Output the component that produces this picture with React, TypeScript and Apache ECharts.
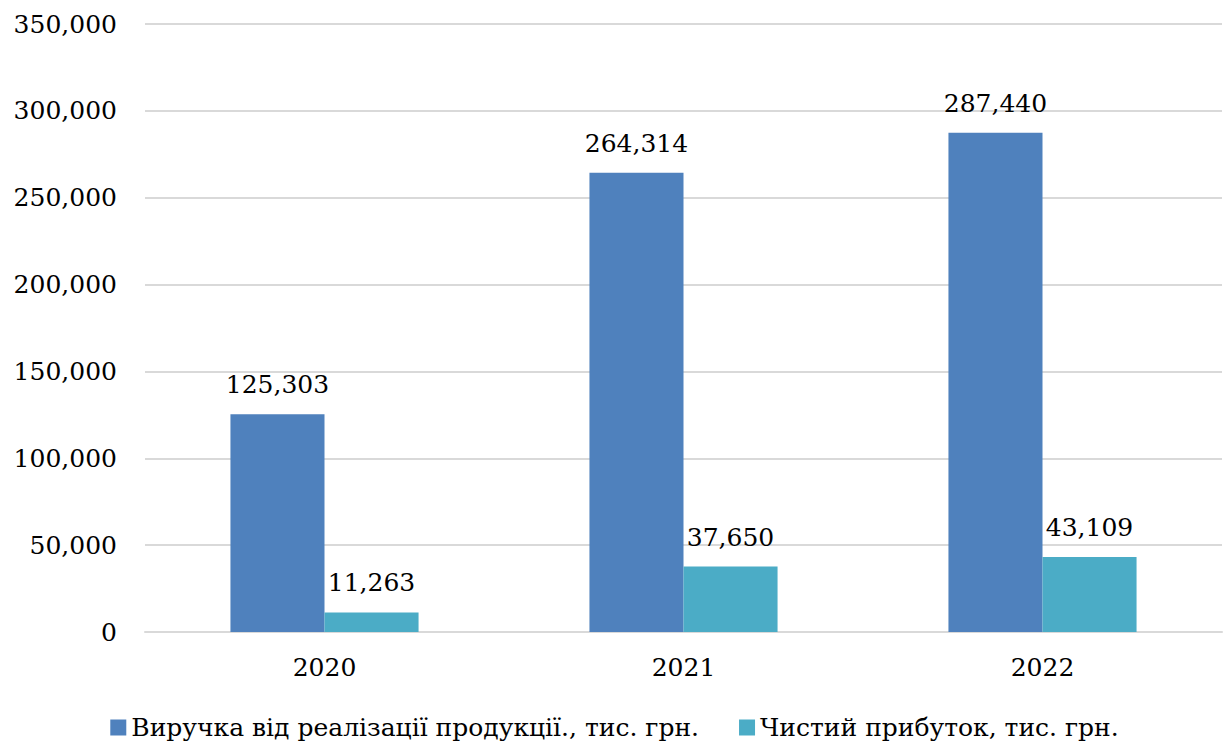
import React, { useEffect, useRef } from "react";
import * as echarts from "echarts";

const categories = ["2020", "2021", "2022"];
const revenue = [125303, 264314, 287440];
const profit = [11263, 37650, 43109];
const seriesNames = [
  "Виручка від реалізації продукції., тис. грн.",
  "Чистий прибуток, тис. грн.",
];

const FONT = "DejaVu Serif";
const fmt = (v: number) => v.toLocaleString("en-US");

export default function App() {
  const ref = useRef<HTMLDivElement>(null);
  useEffect(() => {
    if (!ref.current) return;
    const chart = echarts.init(ref.current, undefined, { renderer: "svg" });
    const labelStyle = {
      show: true,
      position: "top" as const,
      distance: 17,
      fontFamily: FONT,
      fontSize: 25,
      color: "#000",
      formatter: (p: any) => fmt(p.value),
    };
    chart.setOption({
      animation: false,
      backgroundColor: "#fff",
      textStyle: { fontFamily: FONT },
      grid: { left: 145, right: 7, top: 24, bottom: 116, containLabel: false },
      legend: {
        bottom: 3,
        left: "center",
        width: 1229,
        itemWidth: 16,
        itemHeight: 16,
        itemGap: 40,
        icon: "rect",
        textStyle: { fontFamily: FONT, fontSize: 25, color: "#000" },
        data: seriesNames,
      },
      xAxis: {
        type: "category",
        data: categories,
        axisLine: { lineStyle: { color: "#d9d9d9", width: 2 } },
        axisTick: { show: false },
        axisLabel: { fontFamily: FONT, fontSize: 25, color: "#000", margin: 23 },
      },
      yAxis: {
        type: "value",
        min: 0,
        max: 350000,
        interval: 50000,
        axisLine: { show: false },
        axisTick: { show: false },
        splitLine: { lineStyle: { color: "#d9d9d9", width: 2 } },
        axisLabel: {
          fontFamily: FONT,
          fontSize: 25,
          color: "#000",
          margin: 28,
          formatter: (v: number) => fmt(v),
        },
      },
      series: [
        {
          name: seriesNames[0],
          type: "bar",
          data: revenue,
          barGap: "0%",
          barCategoryGap: "47.6%",
          itemStyle: { color: "#4F81BD" },
          label: labelStyle,
        },
        {
          name: seriesNames[1],
          type: "bar",
          data: profit,
          itemStyle: { color: "#4BACC6" },
          label: labelStyle,
        },
      ],
    });
    return () => chart.dispose();
  }, []);
  return (
    <div
      ref={ref}
      style={{ position: "fixed", left: 0, top: 0, width: 1229, height: 748 }}
    />
  );
}
